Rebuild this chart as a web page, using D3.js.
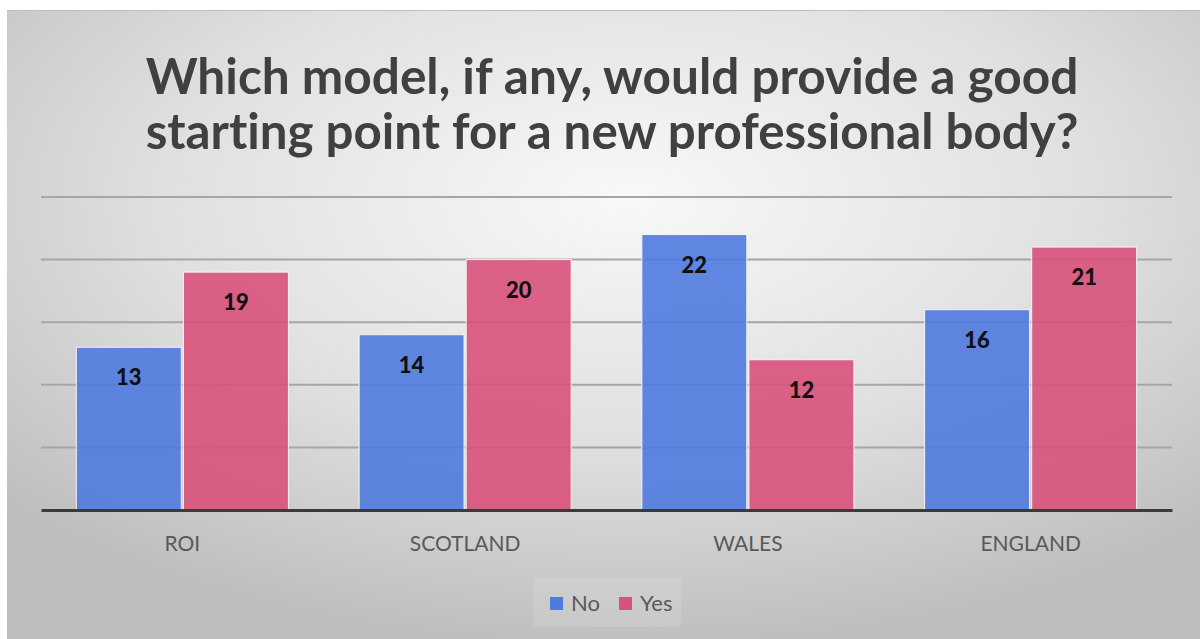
<!DOCTYPE html>
<html>
<head>
<meta charset="utf-8">
<script src="https://cdn.jsdelivr.net/npm/d3@7"></script>
<style>
  html, body { margin: 0; padding: 0; background: #fff; }
  svg { display: block; }
  text { font-variant-ligatures: none; }
</style>
</head>
<body>
<div id="chart"></div>
<script>
const width = 1200;
const height = 639;

// data
const categories = ["ROI", "SCOTLAND", "WALES", "ENGLAND"];
const seriesNames = ["No", "Yes"];
const noValues = [13, 14, 22, 16];
const yesValues = [19, 20, 12, 21];
const yTicks = [0, 5, 10, 15, 20, 25];
const titleLines = [
  "Which model, if any, would provide a good",
  "starting point for a new professional body?"
];

const colors = { No: "#4f7be0", Yes: "#d8527a" };
const font = "Lato, 'Open Sans', sans-serif";

const margin = { left: 41, right: 28, top: 197, bottom: 129 };

const svg = d3.select("#chart")
  .append("svg")
  .attr("width", width)
  .attr("height", height);

// fond en dégradé radial
const defs = svg.append("defs");
const grad = defs.append("radialGradient")
  .attr("id", "bg")
  .attr("cx", "52%").attr("cy", "30%")
  .attr("r", "72%");
grad.append("stop").attr("offset", "0%").attr("stop-color", "#f8f8f8");
grad.append("stop").attr("offset", "55%").attr("stop-color", "#dfdfdf");
grad.append("stop").attr("offset", "100%").attr("stop-color", "#bdbdbd");

svg.append("rect")
  .attr("x", 7).attr("y", 10)
  .attr("width", width - 7).attr("height", height - 10)
  .attr("fill", "url(#bg)");
svg.append("line")
  .attr("x1", 7).attr("x2", width)
  .attr("y1", 10.5).attr("y2", 10.5)
  .attr("stroke", "#bdbdbd").attr("stroke-width", 1);

// titre
const title = svg.append("g");
titleLines.forEach((t, i) => {
  const txt = title.append("text")
    .attr("x", 612)
    .attr("y", 94 + i * 55)
    .attr("text-anchor", "middle")
    .attr("font-family", font)
    .attr("font-weight", "bold")
    .attr("font-size", 48)
    .attr("fill", "#404040")
    .text(t);
  // ajuster la taille pour coller à la largeur du modèle
  const w = txt.node().getComputedTextLength();
  txt.attr("font-size", 48 * 933 / w);
});

// échelles
const x0 = d3.scaleBand()
  .domain(categories)
  .range([margin.left, width - margin.right])
  .paddingInner(0.25)
  .paddingOuter(0.125);

const x1 = d3.scaleBand()
  .domain(seriesNames)
  .range([0, x0.bandwidth()])
  .paddingInner(0.02);

const y = d3.scaleLinear()
  .domain([0, 25])
  .range([height - margin.bottom, margin.top]);

// grille
svg.append("g")
  .selectAll("line")
  .data(yTicks.slice(1))
  .join("line")
  .attr("x1", margin.left)
  .attr("x2", width - margin.right)
  .attr("y1", d => y(d))
  .attr("y2", d => y(d))
  .attr("stroke", "#a6a6a6")
  .attr("stroke-width", 2);

// barres
const rows = categories.map((c, i) => ({ cat: c, No: noValues[i], Yes: yesValues[i] }));

const groups = svg.append("g")
  .selectAll("g")
  .data(rows)
  .join("g")
  .attr("transform", d => `translate(${x0(d.cat)},0)`);

groups.selectAll("rect")
  .data(d => seriesNames.map(k => ({ key: k, value: d[k] })))
  .join("rect")
  .attr("x", d => x1(d.key))
  .attr("y", d => y(d.value))
  .attr("width", x1.bandwidth())
  .attr("height", d => y(0) - y(d.value))
  .attr("fill", d => colors[d.key])
  .attr("fill-opacity", 0.9)
  .attr("stroke", "#f4f4f4")
  .attr("stroke-width", 1);

groups.selectAll("text")
  .data(d => seriesNames.map(k => ({ key: k, value: d[k] })))
  .join("text")
  .attr("x", d => x1(d.key) + x1.bandwidth() / 2)
  .attr("y", d => y(d.value) + 38)
  .attr("text-anchor", "middle")
  .attr("font-family", font)
  .attr("font-weight", "900")
  .attr("font-size", 22)
  .attr("fill", "#111")
  .text(d => d.value);

// axe des x
const xAxis = svg.append("g")
  .attr("transform", `translate(0,${y(0)})`)
  .call(d3.axisBottom(x0).tickSize(0).tickPadding(26));
xAxis.select(".domain")
  .attr("stroke", "#3a3a3a")
  .attr("stroke-width", 3);
xAxis.selectAll("text")
  .attr("font-family", font)
  .attr("font-size", 21)
  .attr("fill", "#595959");

// légende
const legend = svg.append("g");
legend.append("rect")
  .attr("x", 533).attr("y", 578)
  .attr("width", 148).attr("height", 49)
  .attr("fill", "#ffffff").attr("fill-opacity", 0.12);

const legendX = [550, 619];
seriesNames.forEach((s, i) => {
  legend.append("rect")
    .attr("x", legendX[i]).attr("y", 597)
    .attr("width", 13).attr("height", 13)
    .attr("fill", colors[s]);
  legend.append("text")
    .attr("x", legendX[i] + 21)
    .attr("y", 611)
    .attr("font-family", font)
    .attr("font-size", 22)
    .attr("fill", "#595959")
    .text(s);
});
</script>
</body>
</html>
